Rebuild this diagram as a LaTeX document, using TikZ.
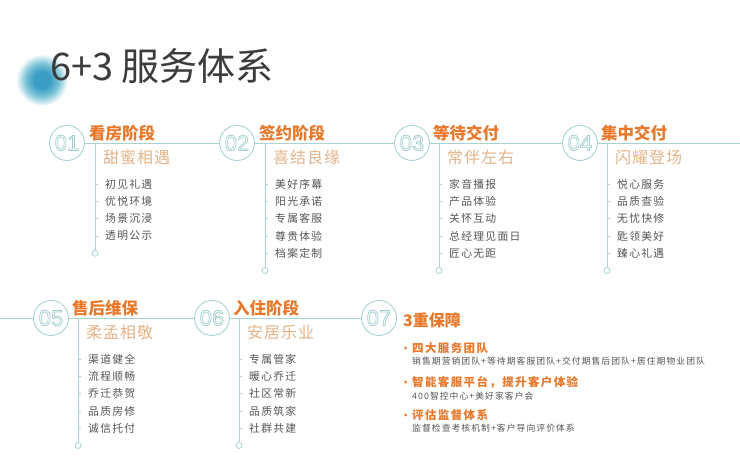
\documentclass[tikz,border=0pt]{standalone}
\usepackage{fontspec}
\setmainfont{Noto Sans CJK SC}
\newfontfamily\cjkls{Noto Sans CJK SC}[LetterSpace=12]
\newfontfamily\subls{Noto Sans CJK SC}[LetterSpace=6]
\newfontfamily\numfont{Liberation Sans}
\newcommand{\hollow}[1]{\special{pdf:literal direct 1 Tr 0.7 w}#1\special{pdf:literal direct 0 Tr}}
\definecolor{tealline}{HTML}{A8D3D5}
\definecolor{tealnum}{HTML}{9FCDCF}
\definecolor{orng}{HTML}{E8782A}
\definecolor{tan}{HTML}{E4B48A}
\definecolor{itemgray}{HTML}{555555}
\definecolor{titlegray}{HTML}{3C3C3C}
\definecolor{blobc}{HTML}{3A9DC4}
\definecolor{blobm}{HTML}{7CC3D8}
\pgfdeclareradialshading{blobshade}{\pgfpoint{0bp}{0bp}}{color(0bp)=(blobc); color(8bp)=(blobc); color(16bp)=(blobm); color(25bp)=(white); color(50bp)=(white)}
\tikzset{
  tl/.style={draw=tealline, line width=0.9pt},
  numc/.style={circle, draw=tealline, line width=0.9pt, fill=white, minimum size=35pt, inner sep=0pt,
    font=\numfont\fontsize{22}{22}\selectfont, text=tealnum},
  ttl/.style={anchor=west, inner sep=0pt, font=\fontsize{16.5}{17}\selectfont\bfseries, text=orng},
  subt/.style={anchor=west, inner sep=0pt, font=\subls\fontsize{16}{17}\selectfont, text=tan},
  itm/.style={anchor=west, inner sep=0pt, font=\cjkls\fontsize{10.8}{11}\selectfont, text=itemgray},
  endc/.style={circle, draw=tealline, fill=white, minimum size=6pt, inner sep=0pt, line width=0.8pt},
  bul/.style={circle, fill=orng, minimum size=3pt, inner sep=0pt},
  bhead/.style={anchor=west, inner sep=0pt, font=\cjkls\fontsize{11.5}{12}\selectfont\bfseries, text=orng},
  bsub/.style={anchor=west, inner sep=0pt, font=\cjkls\fontsize{8.8}{9}\selectfont, text=itemgray},
}
% #1 name, #2 vertical x, #3 line y, #4 title, #5 subtitle, #6 items
\newcommand{\stagecol}[6]{%
  \coordinate (#1top) at (#2,#3);
  \node[ttl] (#1t) at ({#2-6},{#3-10}) {#4};
  \node[subt] (#1s) at ({#2+8},{#3+14}) {#5};
  \foreach \itx [count=\k] in {#6} {
    \node[itm] (#1i\k) at ({#2+10},{#3+41+17.3*(\k-1)}) {\itx};
    \coordinate (#1k\k) at (#2,{#3+41+17.3*(\k-1)});
    \draw[tl, line width=0.7pt] (#1k\k) -- ++(2.5,0);
    \xdef\lastk{\k}
  }
  \node[endc] (#1e) at (#2,{#3+41+17.3*\lastk}) {};
  \draw[tl] (#1top) -- (#1e);
}
\begin{document}
\begin{tikzpicture}[x=1pt,y=-1pt]
\useasboundingbox (0,0) rectangle (740,476);
\fill[white] (0,0) rectangle (740,476);
% blurred blob
\shade[shading=blobshade] (42,80) circle (26pt);
\node[anchor=west, inner sep=0pt, font=\fontsize{38}{38}\selectfont, text=titlegray] (title) at (50,66) {6+3 服务体系};

% row 1
\node[numc] (c1) at (67,143) {\hollow{01}};
\node[numc] (c2) at (237,143) {\hollow{02}};
\node[numc] (c3) at (412,143) {\hollow{03}};
\node[numc] (c4) at (580,143) {\hollow{04}};
\coordinate (r1end) at (740,143);
\draw[tl] (c1) -- (c2);
\draw[tl] (c2) -- (c3);
\draw[tl] (c3) -- (c4);
\draw[tl] (c4) -- (r1end);

\stagecol{s1}{95}{143}{看房阶段}{甜蜜相遇}{初见礼遇,优悦环境,场景沉浸,透明公示}
\stagecol{s2}{265}{143}{签约阶段}{喜结良缘}{美好序幕,阳光承诺,专属客服,尊贵体验,档案定制}
\stagecol{s3}{439}{143}{等待交付}{常伴左右}{家音播报,产品体验,关怀互动,总经理见面日,匠心无距}
\stagecol{s4}{607}{143}{集中交付}{闪耀登场}{悦心服务,品质查验,无忧快修,匙领美好,臻心礼遇}

% row 2
\coordinate (r2start) at (0,318);
\node[numc] (c5) at (51,318) {\hollow{05}};
\node[numc] (c6) at (212,318) {\hollow{06}};
\node[numc] (c7) at (379,318) {\hollow{07}};
\draw[tl] (r2start) -- (c5);
\draw[tl] (c5) -- (c6);
\draw[tl] (c6) -- (c7);

\stagecol{s5}{78}{318}{售后维保}{柔孟相敬}{渠道健全,流程顺畅,乔迁恭贺,品质房修,诚信托付}
\stagecol{s6}{239}{318}{入住阶段}{安居乐业}{专属管家,暖心乔迁,社区常新,品质筑家,社群共建}

% column 7
\node[anchor=west, inner sep=0pt, font=\fontsize{16}{16}\selectfont\bfseries, text=orng] (g7) at (403,320) {3重保障};
\node[bul] (b1) at (405.5,348) {};
\node[bhead] (h1) at (412,348) {四大服务团队};
\node[bsub] (d1) at (412,361.5) {销售期营销团队+等待期客服团队+交付期售后团队+居住期物业团队};
\node[bul] (b2) at (405.5,382) {};
\node[bhead] (h2) at (412,382) {智能客服平台，提升客户体验};
\node[bsub] (d2) at (412,396) {400智控中心+美好家客户会};
\node[bul] (b3) at (405.5,415) {};
\node[bhead] (h3) at (412,415) {评估监督体系};
\node[bsub] (d3) at (412,428.5) {监督检查考核机制+客户导向评价体系};
\end{tikzpicture}
\end{document}
